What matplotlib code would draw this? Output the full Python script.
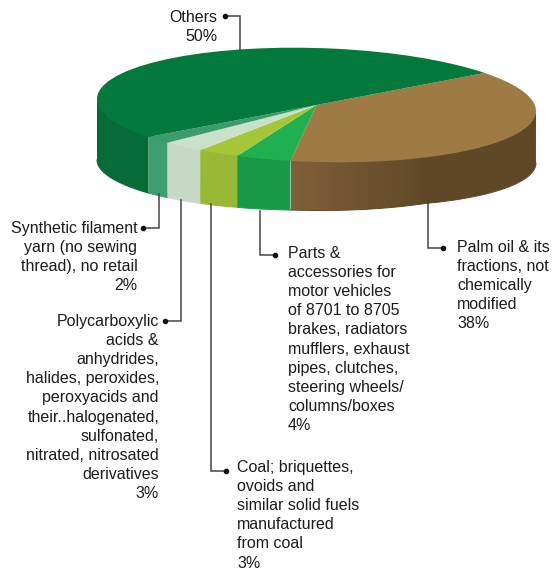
import numpy as np
import matplotlib
matplotlib.use('Agg')
import matplotlib.pyplot as plt
from matplotlib.colors import to_rgb
from matplotlib.path import Path
from matplotlib.transforms import Affine2D

plt.rcParams['font.family'] = ['Liberation Sans', 'DejaVu Sans']

categories = ['Palm oil', 'Parts', 'Coal', 'Polycarboxylic', 'Synthetic', 'Others']
shares = [38, 4, 3, 3, 2, 50]
top_colors = ['#9e7b45', '#1fb04f', '#a4c637', '#c9e0c9', '#3a9c6c', '#037a3c']
wall_left = ['#7f6038', '#199a48', '#97b935', '#c6d9c4', '#3f9e72', '#056c38']
wall_right = ['#5f4727', '#1a9a48', '#97b935', '#c6d9c4', '#3f9e72', '#056c38']

palm_lines = ['Palm oil & its', 'fractions, not', 'chemically', 'modified', '38%']
parts_lines = ['Parts &', 'accessories for', 'motor vehicles', 'of 8701 to 8705', 'brakes, radiators',
               'mufflers, exhaust', 'pipes, clutches,', 'steering wheels/', 'columns/boxes', '4%']
coal_lines = ['Coal; briquettes,', 'ovoids and', 'similar solid fuels', 'manufactured', 'from coal', '3%']
poly_lines = ['Polycarboxylic', 'acids &', 'anhydrides,', 'halides, peroxides,', 'peroxyacids and',
              'their..halogenated,', 'sulfonated,', 'nitrated, nitrosated', 'derivatives', '3%']
synth_lines = ['Synthetic filament', 'yarn (no sewing', 'thread), no retail', '2%']
others_lines = ['Others', '50%']

# ellipse of the top face in pixels
CX, CY, RX, RY, TILT = 316.5, 105, 219.5, 57, 6
START = 40


def ellipse_xy(deg):
    t = np.radians(deg)
    return CX + RX * np.cos(t), CY - RY * np.sin(t) + TILT * np.cos(t)


def wall_depth(deg):
    # the picture has some perspective, wall is taller on the left
    return np.interp(deg, [-180, -140, -96, -60, 0], [61, 56, 49, 46, 52])


fig = plt.figure(figsize=(5.53, 5.69), dpi=100)
ax = fig.add_axes([0, 0, 1, 1])

# side wall, only the front half shows
ends = START - np.cumsum(shares) * 3.6
starts = np.concatenate([[START], ends[:-1]])
for a0, a1, c0, c1 in zip(starts, ends, wall_left, wall_right):
    lo, hi = max(a1, -180), min(a0, 0)
    if lo >= hi:
        continue
    t = np.linspace(lo, hi, 80)
    x, y = ellipse_xy(t)
    y2 = y + wall_depth(t)
    # start a bit above the rim so no pale seam shows under the top face
    y1 = y - 2
    verts = np.column_stack([np.r_[x, x[::-1]], np.r_[y1, y2[::-1]]])
    # brown goes dark by about x=430, then stays there
    f = np.clip(np.linspace(0, 1, 64) * 1.75, 0, 1)[None, :, None]
    grad = np.array(to_rgb(c0))[None, None, :] * (1 - f) + np.array(to_rgb(c1))[None, None, :] * f
    im = ax.imshow(grad, extent=[x.min(), x.max(), y2.max(), y1.min()], aspect='auto', zorder=1,
                   interpolation='bilinear')
    im.set_clip_path(Path(np.vstack([verts, verts[0]])), transform=ax.transData)
    ax.plot(x, y2, color=c1, lw=0.7, zorder=1)

# top face
wedges, _ = ax.pie(shares, colors=top_colors, startangle=START, counterclock=False, radius=1)
shape = Affine2D.from_values(RX, TILT, 0, -RY, CX, CY)
for w in wedges:
    w.set_transform(shape + ax.transData)
    w.set_zorder(2)

ax.set_aspect('auto')
ax.set_xlim(0, 553)
ax.set_ylim(569, 0)
ax.axis('off')

LINE = 19.2
FS = 11.5


def label(lines, x, y, ha):
    for i, s in enumerate(lines):
        ax.text(x, y + i * LINE, s, ha=ha, va='center', fontsize=FS, color='#1c1c1c', zorder=4)


def leader(xs, ys):
    ax.plot(xs, ys, color='#454545', lw=1.1, solid_joinstyle='miter', zorder=3)
    ax.plot(xs[0], ys[0], 'o', color='#111111', ms=3, zorder=3)


label(others_lines, 217, 17, 'right')
leader([225, 240, 240], [16, 16, 50])
label(synth_lines, 137.5, 228, 'right')
leader([143, 159, 159], [228, 228, 194])
label(poly_lines, 159, 321, 'right')
leader([165, 181, 181], [321, 321, 200])
label(coal_lines, 237, 467, 'left')
leader([226, 211, 211], [471, 471, 204])
label(parts_lines, 288, 253, 'left')
leader([275, 260, 260], [255, 255, 211])
label(palm_lines, 457, 247, 'left')
leader([443, 428, 428], [248, 248, 201])

fig.savefig('out.png', dpi=100)
